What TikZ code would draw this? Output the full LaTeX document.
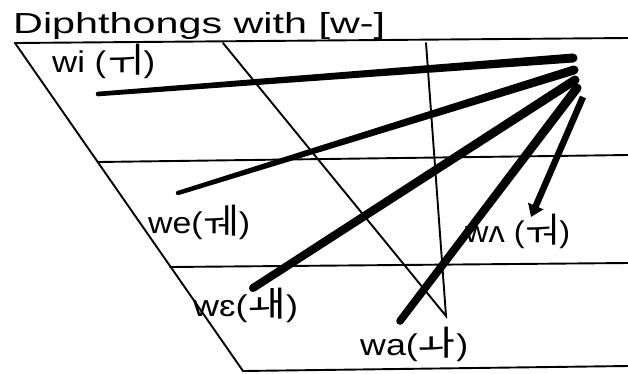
\documentclass[tikz,border=0pt]{standalone}
\usepackage{graphicx}
\usepackage{fontspec}
\setmainfont{Liberation Sans}
\newfontfamily\kr{Noto Sans CJK KR}
\usetikzlibrary{calc,arrows.meta}
\newcommand\taper[4]{%
  \fill ($(#1)!#3!90:(#2)$) -- ($(#2)!#4!-90:(#1)$) -- ($(#2)!#4!90:(#1)$) -- ($(#1)!#3!-90:(#2)$) -- cycle;
  \fill (#1) circle (#3);
  \fill (#2) circle (#4);}
\newcommand\lab[2]{\resizebox{#1}{\height}{#2}}
\newcommand\jm[1]{{\kr\fontsize{35}{35}\selectfont #1}}
\begin{document}
\begin{tikzpicture}[x=1pt,y=-1pt,
  frame/.style={line width=1.9pt,line cap=round},
  title/.style={anchor=base west,inner sep=0pt,font=\fontsize{29}{30}\selectfont},
  vlabel/.style={anchor=base west,inner sep=0pt,font=\fontsize{30}{31}\selectfont}]
\useasboundingbox[fill=white] (0,0) rectangle (628,373);
% frame coordinates
\coordinate (TL) at (15,43);
\coordinate (TR) at (628,38);
\coordinate (BL) at (243,371);
\coordinate (BR) at (628,366);
\coordinate (M2L) at (98,162);
\coordinate (M2R) at (628,155);
\coordinate (M3L) at (170,267);
\coordinate (M3R) at (628,263);
\coordinate (DT) at (223,43);
\coordinate (VT) at (426,43);
\coordinate (VB) at (446,316);
\draw[frame] (TL) -- (TR);
\draw[frame] (TL) -- (BL) -- (BR);
\draw[frame] (M2L) -- (M2R);
\draw[frame] (M3L) -- (M3R);
\draw[frame] (DT) -- (VB) -- (VT);
% title
\node[title] (ttl) at (13,33) {\resizebox{372pt}{\height}{Diphthongs with [w-]}};
% labels
\node[vlabel] (lwi) at (52,72) {\lab{103pt}{wi (\jm{ㅟ})}};
\node[vlabel] (lwe) at (148,233) {\lab{102pt}{we(\jm{ㅞ})}};
\node[vlabel] (lweh) at (193,316) {\lab{105pt}{wɛ(\jm{ㅙ})}};
\node[vlabel] (lwa) at (360,355) {\lab{108pt}{wa(\jm{ㅘ})}};
\node[vlabel] (lwv) at (465,242) {\lab{105pt}{wʌ (\jm{ㅝ})}};
% strokes
\coordinate (A1) at (98,94);  \coordinate (B1) at (573,58);
\coordinate (A2) at (178,193); \coordinate (B2) at (574,70);
\coordinate (A3) at (253,288); \coordinate (B3) at (575,80);
\coordinate (A4) at (400,321); \coordinate (B4) at (577,88);
\coordinate (A5) at (583,97);  \coordinate (B5) at (531,217);
\taper{A1}{B1}{2.3pt}{4.5pt}
\taper{A2}{B2}{2.2pt}{4.5pt}
\taper{A3}{B3}{4pt}{4.5pt}
\taper{A4}{B4}{3.8pt}{4.5pt}
\draw[line width=6.5pt,-{Triangle[length=12pt,width=16pt]}] (A5) -- (B5);
\end{tikzpicture}
\end{document}
